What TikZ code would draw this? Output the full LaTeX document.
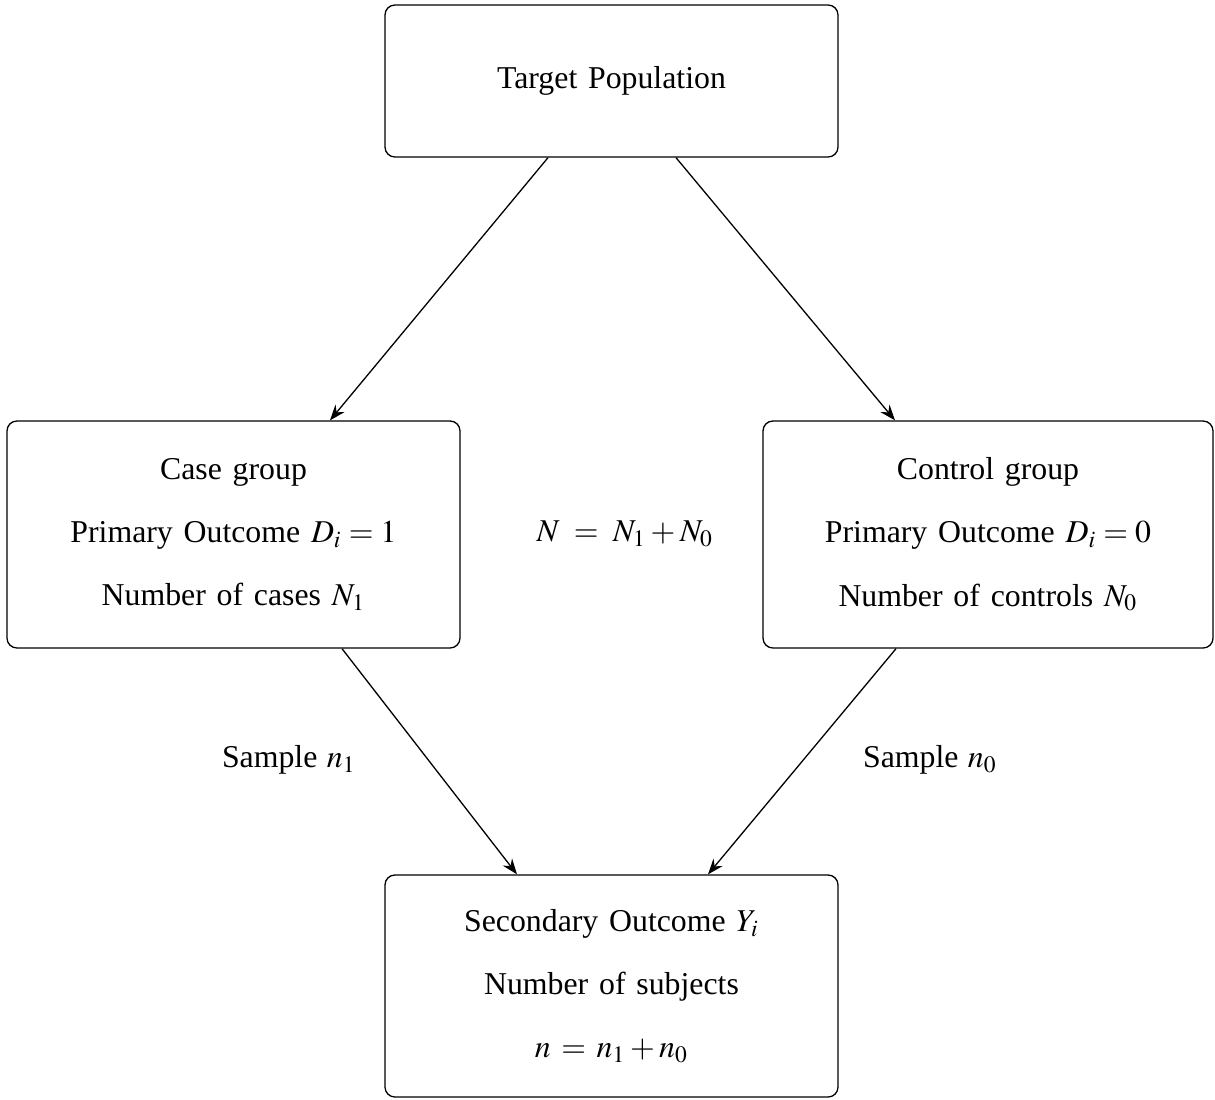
\documentclass[tikz,border=0pt,12pt]{standalone}
\usepackage{mathptmx}
\usepackage[no-math]{fontspec}
\setmainfont{Liberation Serif}
\usetikzlibrary{calc,arrows.meta}
\def\u{0.3837pt}
\begin{document}
\begin{tikzpicture}[x=\u,y=-\u,
  box/.style={draw,rounded corners=3.8pt,line width=0.5pt,align=center,
    font={\fontsize{12.2}{24.2}\selectfont\spaceskip=0.34em plus 0.1em}},
  lbl/.style={font={\fontsize{12.2}{14.4}\selectfont\spaceskip=0.3em plus 0.1em}},
  arr/.style={-{Stealth[length=6pt,width=4.5pt,inset=2pt]},line width=0.5pt}]
\useasboundingbox (0,0) rectangle (1215,1099);
\node[box,minimum width=453*0.3837pt,minimum height=152*0.3837pt] (t) at (611.5,81) {Target Population};
\node[box,minimum width=453*0.3837pt,minimum height=227*0.3837pt] (case) at (233.5,534.5)
  {Case group\\Primary Outcome $D_i=1$\\Number of cases $N_1$};
\node[box,minimum width=450*0.3837pt,minimum height=227*0.3837pt] (ctrl) at (988,534.5)
  {Control group\\Primary Outcome $D_i=0$\\Number of controls $N_0$};
\node[box,minimum width=453*0.3837pt,minimum height=222*0.3837pt] (sec) at (611.5,986)
  {Secondary Outcome $Y_i$\\Number of subjects\\$n\,=\,n_1+n_0$};
\node[lbl] (N) at (625,534) {$N\;=\;N_1+N_0$};
\node[lbl] (s1) at (289,760) {Sample $n_1$};
\node[lbl] (s0) at (930,760) {Sample $n_0$};
\draw[arr] ($(t.south)+(-63.5,0)$) -- ($(case.north)+(96.5,0)$);
\draw[arr] ($(t.south)+(64.5,0)$) -- ($(ctrl.north)+(-93,0)$);
\draw[arr] ($(case.south)+(108.5,0)$) -- ($(sec.north)+(-94.5,0)$);
\draw[arr] ($(ctrl.south)+(-92,0)$) -- ($(sec.north)+(96.5,0)$);
\end{tikzpicture}
\end{document}
